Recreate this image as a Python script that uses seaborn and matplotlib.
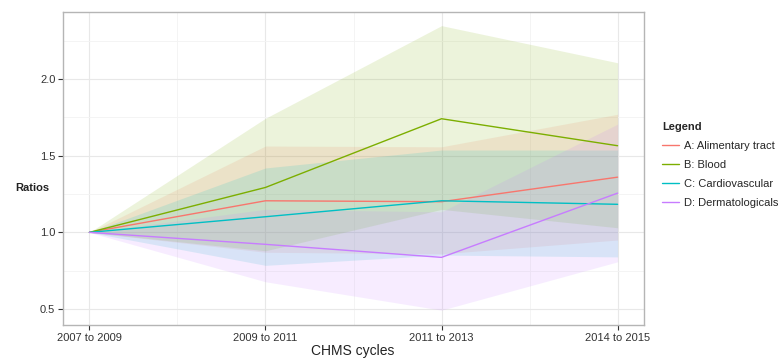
import numpy as np
import pandas as pd
import matplotlib
matplotlib.use("Agg")
import matplotlib.pyplot as plt
from matplotlib.lines import Line2D
from matplotlib.ticker import MultipleLocator, FormatStrFormatter
import seaborn as sns

# CHMS survey cycles
cycles = ["2007 to 2009", "2009 to 2011", "2011 to 2013", "2014 to 2015"]

# ATC groups
groups = ["A: Alimentary tract and metabolism", "B: Blood",
          "C: Cardiovascular", "D: Dermatologicals"]

# Ratios relative to the first cycle
ratio_a = [1.0, 1.206, 1.20, 1.36]
ratio_b = [1.0, 1.293, 1.741, 1.565]
ratio_c = [1.0, 1.102, 1.206, 1.183]
ratio_d = [1.0, 0.922, 0.837, 1.256]

# Confidence bounds
low_a = [1.0, 0.87, 0.86, 0.95]
high_a = [1.0, 1.563, 1.558, 1.77]
low_b = [1.0, 0.88, 1.15, 1.03]
high_b = [1.0, 1.744, 2.348, 2.106]
low_c = [1.0, 0.785, 0.852, 0.84]
high_c = [1.0, 1.42, 1.537, 1.537]
low_d = [1.0, 0.678, 0.493, 0.808]
high_d = [1.0, 1.15, 1.134, 1.706]

ratios = [ratio_a, ratio_b, ratio_c, ratio_d]
lows = [low_a, low_b, low_c, low_d]
highs = [high_a, high_b, high_c, high_d]
colors = ["#F8766D", "#7CAE00", "#00BFC4", "#C77CFF"]

pos = np.arange(len(cycles))
df = pd.DataFrame({
    "cycle": np.tile(pos, len(groups)),
    "ratio": np.concatenate(ratios),
    "low": np.concatenate(lows),
    "high": np.concatenate(highs),
    "group": np.repeat(groups, len(cycles)),
})

sns.set_style("white")
plt.rcParams["font.family"] = ["Liberation Sans", "DejaVu Sans"]

fig = plt.figure(figsize=(7.78, 3.6), dpi=100)
ax = fig.add_axes([63 / 778, 35 / 360, (644 - 63) / 778, (325 - 12) / 360])

palette = dict(zip(groups, colors))
for g in groups:
    sub = df[df["group"] == g]
    ax.fill_between(sub["cycle"], sub["low"], sub["high"],
                    color=palette[g], alpha=0.14, linewidth=0, zorder=2)

sns.lineplot(data=df, x="cycle", y="ratio", hue="group", palette=palette,
             linewidth=1.0, legend=False, ax=ax, zorder=3)

ax.set_xlim(-0.15, 3.15)
ax.set_ylim(0.396, 2.437)
ax.set_xticks(pos)
ax.set_xticklabels(cycles)
ax.yaxis.set_major_locator(MultipleLocator(0.5))
ax.yaxis.set_minor_locator(MultipleLocator(0.25))
ax.set_xticks(pos[:-1] + 0.5, minor=True)
ax.yaxis.set_major_formatter(FormatStrFormatter("%.1f"))

ax.grid(True, which="major", color="#E8E8E8", linewidth=0.8, zorder=0)
ax.grid(True, which="minor", color="#F3F3F3", linewidth=0.6, zorder=0)
ax.set_axisbelow(True)
for s in ax.spines.values():
    s.set_color("#B5B5B5")
    s.set_linewidth(1.0)

ax.tick_params(axis="both", which="major", length=3.5, width=0.8, color="#333333",
               labelsize=8, labelcolor="#333333", pad=2, direction="out",
               bottom=True, left=True)
ax.tick_params(axis="both", which="minor", length=0)

ax.set_xlabel("")
ax.set_ylabel("")
fig.text(353 / 778, 1 - 351 / 360, "CHMS cycles", ha="center", va="center",
         fontsize=10, color="#222222")
fig.text(32 / 778, 1 - 188 / 360, "Ratios", ha="center", va="center",
         fontsize=8, fontweight="bold", color="#222222")

handles = [Line2D([0], [0], color=c, linewidth=1.0) for c in colors]
leg = fig.legend(handles, groups, title="Legend", loc="upper left",
                 bbox_to_anchor=(658 / 778, 1 - 118 / 360), frameon=False,
                 fontsize=8, title_fontsize=8, handlelength=1.5,
                 handletextpad=0.4, labelspacing=0.8, borderaxespad=0)
leg.get_title().set_fontweight("bold")
leg._legend_box.align = "left"

fig.savefig("out.png", dpi=100)
